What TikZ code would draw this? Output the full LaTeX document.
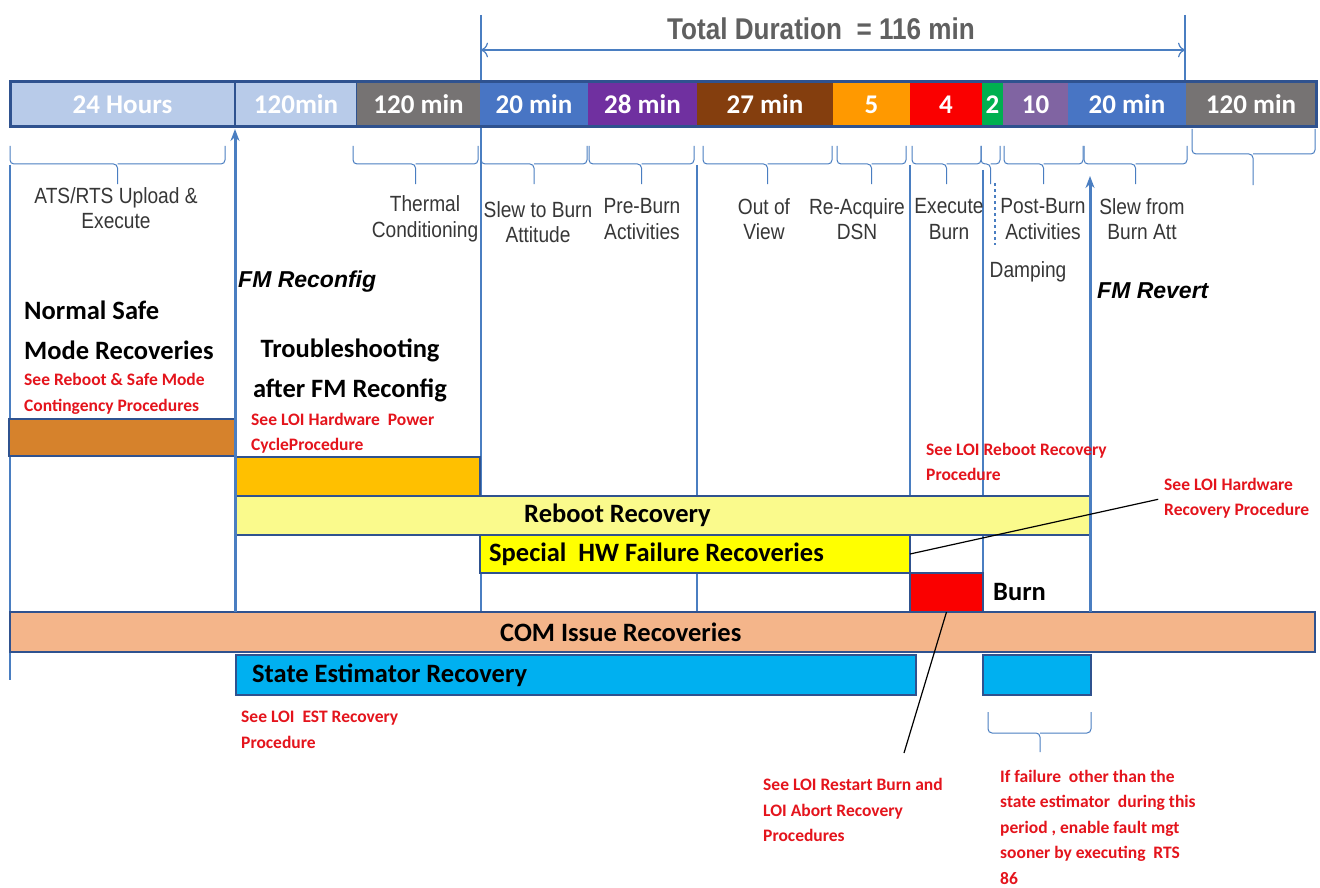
\documentclass[tikz,border=0pt]{standalone}
\usepackage{fontspec}
\setmainfont{Carlito}
\newfontfamily\arialfont{Liberation Sans}
\newfontfamily\narrowfont[FakeStretch=0.87]{Liberation Sans}
\usetikzlibrary{positioning,arrows.meta}
\definecolor{edgeblue}{RGB}{47,82,143}
\definecolor{lineblue}{RGB}{74,126,193}
\definecolor{paleblue}{RGB}{184,203,233}
\definecolor{segblue}{RGB}{72,117,196}
\definecolor{seggray}{RGB}{118,115,115}
\definecolor{segpurple}{RGB}{112,48,160}
\definecolor{segbrown}{RGB}{132,62,14}
\definecolor{segorange}{RGB}{255,153,0}
\definecolor{segred}{RGB}{250,0,0}
\definecolor{seggreen}{RGB}{0,176,80}
\definecolor{seglilac}{RGB}{128,100,162}
\definecolor{safebrown}{RGB}{214,130,44}
\definecolor{fmgold}{RGB}{255,192,0}
\definecolor{rebootyellow}{RGB}{250,250,140}
\definecolor{hwyellow}{RGB}{255,255,0}
\definecolor{comorange}{RGB}{244,181,138}
\definecolor{estblue}{RGB}{0,176,240}
\definecolor{notered}{RGB}{228,20,28}
\definecolor{labelgray}{RGB}{55,55,55}
\definecolor{titlegray}{RGB}{96,96,96}
\begin{document}
\begin{tikzpicture}[x=1pt, y=-1pt,
    seg/.style={minimum height=45pt, inner sep=0pt, outer sep=0pt, text=white, font=\fontsize{27}{30}\selectfont\bfseries},
    bar/.style={draw=edgeblue, line width=2.5pt, inner sep=0pt, outer sep=0pt, anchor=north west},
    bartext/.style={font=\fontsize{26.5}{30}\selectfont\bfseries, inner sep=0pt, anchor=west},
    phase/.style={font=\narrowfont\fontsize{22}{25.5}\selectfont, text=labelgray, align=center, inner sep=0pt},
    note/.style={font=\fontsize{17.5}{25.5}\selectfont\bfseries, text=notered, align=left, inner sep=0pt, anchor=west},
    fm/.style={font=\arialfont\fontsize{23}{26}\selectfont\bfseries\itshape, inner sep=0pt, anchor=west},
    bracket/.style={draw=lineblue, line width=1pt, rounded corners=4pt},
    guide/.style={draw=lineblue, line width=1.2pt},
    fmarrow/.style={draw=lineblue, line width=3pt, -{Stealth[length=12pt,width=9pt]}}]
    \fill[white] (0,0) rectangle (1320,888);
    \useasboundingbox (0,0) rectangle (1320,888);

    \node[font=\narrowfont\fontsize{30}{34}\selectfont\bfseries, text=titlegray] (total) at (821,29) {Total Duration~ = 116 min};
    \coordinate (t0) at (481,50);
    \coordinate (t1) at (1185,50);
    \draw[lineblue, line width=1.2pt, {To[length=7pt]}-{To[length=7pt]}] (t0) -- (t1);

    \draw[guide] (10,165) -- (10,680);
    \draw[guide] (481,15) -- (481,612);
    \draw[guide] (697,165) -- (697,612);
    \draw[guide] (910,165) -- (910,612);
    \draw[guide] (983,170) -- (983,612);
    \draw[guide] (1185,15) -- (1185,80);
    \draw[guide, dashed] (995,183) -- (995,245);

    \node[seg, fill=paleblue, draw=edgeblue, line width=2pt, minimum width=225pt, anchor=north west] (s1) at (10,82) {24 Hours};
    \node[seg, fill=paleblue, draw=edgeblue, line width=2pt, minimum width=122pt, right=0pt of s1] (s2) {120min};
    \node[seg, fill=seggray, minimum width=123pt, right=0pt of s2] (s3) {120 min};
    \node[seg, fill=segblue, minimum width=108pt, right=0pt of s3] (s4) {20 min};
    \node[seg, fill=segpurple, minimum width=109pt, right=0pt of s4] (s5) {28 min};
    \node[seg, fill=segbrown, minimum width=136pt, right=0pt of s5] (s6) {27 min};
    \node[seg, fill=segorange, minimum width=77pt, right=0pt of s6] (s7) {5};
    \node[seg, fill=segred, minimum width=72pt, right=0pt of s7] (s8) {4};
    \node[seg, fill=seggreen, minimum width=21pt, right=0pt of s8] (s9) {2};
    \node[seg, fill=seglilac, minimum width=65pt, right=0pt of s9] (s10) {10};
    \node[seg, fill=segblue, minimum width=118pt, right=0pt of s10] (s11) {20 min};
    \node[seg, fill=seggray, minimum width=130pt, right=0pt of s11] (s12) {120 min};
    \draw[edgeblue, line width=3pt] (s1.north west) rectangle (s12.south east);

    \foreach \a/\b in {10/225, 353/478, 481/587, 589/694, 703/832, 837/906, 912/981, 981/1000, 1004/1083, 1084/1187}
        \draw[bracket] (\a,146) |- ({(\a+\b)/2},164) -- ({(\a+\b)/2},184) (\b,146) |- ({(\a+\b)/2},164);
    \draw[bracket] (1192,129) |- (1253,154) -- (1253,185) (1315,129) |- (1253,154);
    \draw[bracket] (988,712) |- (1040,733) -- (1040,752) (1091,712) |- (1040,733);

    \node[phase] (ats) at (116,208) {ATS/RTS Upload \&\\Execute};
    \node[phase] (thermal) at (425,219) {Thermal\\Conditioning};
    \node[phase] (slewto) at (538,222) {Slew to Burn\\Attitude};
    \node[phase] (preburn) at (642,219) {Pre-Burn\\Activities};
    \node[phase] (outview) at (764,219) {Out of\\View};
    \node[phase] (reacquire) at (857,219) {Re-Acquire\\DSN};
    \node[phase] (execute) at (949,219) {Execute\\Burn};
    \node[phase] (postburn) at (1043,219) {Post-Burn\\Activities};
    \node[phase] (slewfrom) at (1142,219) {Slew from\\Burn Att};
    \node[phase] (damping) at (1028,272) {Damping};

    \node[fm] (reconfig) at (238,282) {FM Reconfig};
    \node[fm] (revert) at (1097,291) {FM Revert};
    \node[bartext, align=left, font=\fontsize{26.5}{40}\selectfont\bfseries] (normal) at (24,330) {Normal Safe\\Mode Recoveries};
    \node[bartext, align=center, anchor=center, font=\fontsize{26.5}{40}\selectfont\bfseries] (trouble) at (350,370) {Troubleshooting\\after FM Reconfig};

    \node[bar, fill=safebrown, minimum width=226pt, minimum height=37pt] (safebar) at (9,419) {};
    \node[bar, fill=fmgold, minimum width=244pt, minimum height=39pt] (fmbar) at (236,457) {};
    \node[bar, fill=rebootyellow, minimum width=855pt, minimum height=39pt] (reboot) at (235,496) {};
    \node[bar, fill=hwyellow, minimum width=430pt, minimum height=38pt] (special) at (480,535) {};
    \node[bar, fill=segred, minimum width=73pt, minimum height=39pt] (burn) at (910,573) {};
    \node[bar, fill=comorange, minimum width=1305pt, minimum height=40pt] (com) at (10,612) {};
    \node[bar, fill=estblue, minimum width=680pt, minimum height=40pt] (est) at (236,655) {};
    \node[bar, fill=estblue, minimum width=108pt, minimum height=40pt] (est2) at (983,655) {};

    \node[bartext, right=289pt of reboot.west] (reboottxt) {Reboot Recovery};
    \node[bartext, right=9pt of special.west] (specialtxt) {Special~ HW Failure Recoveries};
    \node[bartext, right=490pt of com.west] (comtxt) {COM Issue Recoveries};
    \node[bartext, right=16pt of est.west] (esttxt) {State Estimator Recovery};
    \node[bartext, right=10pt of burn.east] (burntxt) {Burn};

    \coordinate (revtip) at (1090,176);
    \draw[fmarrow, shorten >=2pt] (com.north -| s2.south west) -- (s2.south west);
    \draw[fmarrow] (com.north -| revtip) -- (revtip);

    \node[note] (safenote) at (24,394) {See Reboot \& Safe Mode\\Contingency Procedures};
    \node[note] (powernote) at (251,433) {See LOI Hardware~ Power\\CycleProcedure};
    \node[note] (rebootnote) at (926,462) {See LOI Reboot Recovery\\Procedure};
    \node[note] (hwnote) at (1164,498) {See LOI Hardware\\Recovery Procedure};
    \node[note] (estnote) at (241,730) {See LOI~ EST Recovery\\Procedure};
    \node[note] (restartnote) at (763,810) {See LOI Restart Burn and\\LOI Abort Recovery\\Procedures};
    \node[note] (rtsnote) at (1000,827) {If failure~ other than the\\state estimator~ during this\\period , enable fault mgt\\sooner by executing~ RTS\\86};

    \coordinate (burnfoot) at (904,753);
    \draw[black, line width=1.2pt, shorten >=6pt] (special.east) -- (hwnote.west);
    \draw[black, line width=1.2pt] (burn.south) -- (burnfoot);
\end{tikzpicture}
\end{document}
